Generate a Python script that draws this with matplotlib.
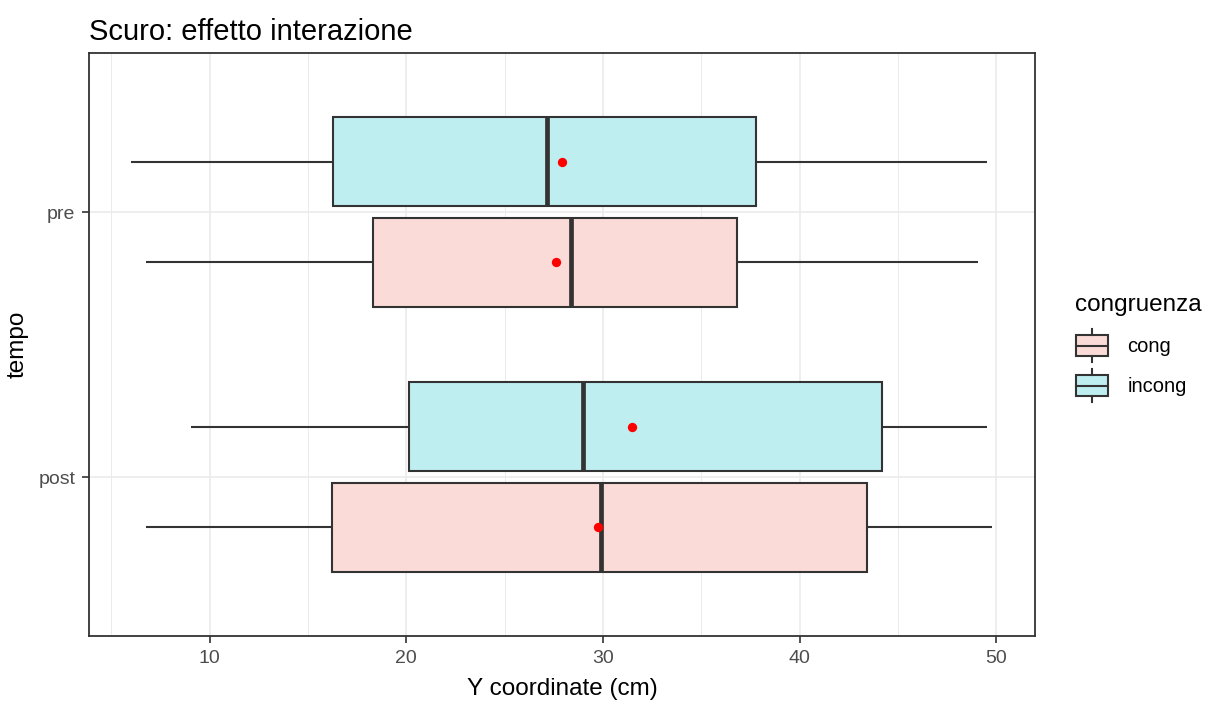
import matplotlib
matplotlib.use("Agg")
import matplotlib.pyplot as plt
from matplotlib.patches import Rectangle, Patch
from matplotlib.legend_handler import HandlerBase
from matplotlib.lines import Line2D

plt.rcParams['font.family'] = ['Liberation Sans', 'DejaVu Sans']

tempo = ["post", "pre"]
groups = ["cong", "incong"]
# stats per (tempo, group): whisker_low, q1, median, q3, whisker_high, mean
stats = {
    ("pre", "incong"): [6.0, 16.26, 27.15, 37.79, 49.54, 27.91],
    ("pre", "cong"):   [6.74, 18.3, 28.37, 36.82, 49.08, 27.6],
    ("post", "incong"): [9.03, 20.13, 28.98, 44.2, 49.54, 31.48],
    ("post", "cong"):  [6.74, 16.21, 29.9, 43.4, 49.8, 29.75],
}
fills = {"cong": "#FADBD8", "incong": "#BFEEF0"}
edge = "#333333"

fig = plt.figure(figsize=(12.12, 7.01), dpi=100)
ax = fig.add_axes([0.0738, 0.0927, 0.8542 - 0.0738, 0.9244 - 0.0927])

offsets = {"cong": -0.19, "incong": 0.19}
h = 0.336
for i, t in enumerate(tempo):
    yc = i + 1
    for g in groups:
        lo, q1, med, q3, hi, mn = stats[(t, g)]
        y = yc + offsets[g]
        ax.plot([lo, q1], [y, y], color=edge, lw=1.5, zorder=3, solid_capstyle='butt')
        ax.plot([q3, hi], [y, y], color=edge, lw=1.5, zorder=3, solid_capstyle='butt')
        ax.add_patch(Rectangle((q1, y - h / 2), q3 - q1, h, facecolor=fills[g],
                               edgecolor=edge, lw=1.5, zorder=3))
        ax.plot([med, med], [y - h / 2, y + h / 2], color=edge, lw=3.4, zorder=4,
                solid_capstyle='butt')
        ax.scatter([mn], [y], color="red", s=45, zorder=5, linewidths=0)

ax.set_xlim(3.89, 51.98)
ax.set_ylim(0.4, 2.6)
ax.set_xticks([10, 20, 30, 40, 50])
ax.set_xticks([5, 15, 25, 35, 45], minor=True)
ax.set_yticks([1, 2])
ax.set_yticklabels(tempo)
ax.grid(True, which='major', color='#EBEBEB', lw=1.2, zorder=0)
ax.grid(True, which='minor', axis='x', color='#EBEBEB', lw=0.7, zorder=0)
ax.set_axisbelow(True)
for s in ax.spines.values():
    s.set_color('#333333')
    s.set_linewidth(1.3)
ax.tick_params(axis='both', which='major', length=5, color='#333333', width=1.2,
               labelsize=14, labelcolor='#4D4D4D', pad=5)
ax.tick_params(axis='both', which='minor', length=0)
ax.set_xlabel("Y coordinate (cm)", fontsize=17.5, color='black', labelpad=8)
ax.set_ylabel("tempo", fontsize=17.5, color='black', labelpad=7)
ax.set_title("Scuro: effetto interazione", fontsize=21, loc='left', x=-0.0, pad=9)


class BoxHandler(HandlerBase):
    def create_artists(self, legend, orig_handle, xdescent, ydescent, width, height, fontsize, trans):
        fc = orig_handle.get_facecolor()
        w = width * 0.94
        x0 = xdescent + (width - w) / 2
        bh = height * 0.95
        y0 = -ydescent + (height - bh) / 2
        r = Rectangle((x0, y0), w, bh, facecolor=fc, edgecolor=edge, lw=1.5, transform=trans)
        cx = x0 + w / 2
        l1 = Line2D([cx, cx], [y0 + bh, y0 + bh + height * 0.28], color=edge, lw=1.5, transform=trans)
        l2 = Line2D([cx, cx], [y0, y0 - height * 0.28], color=edge, lw=1.5, transform=trans)
        l3 = Line2D([x0, x0 + w], [y0 + bh / 2, y0 + bh / 2], color=edge, lw=1.5, transform=trans)
        return [r, l1, l2, l3]

handles = [Patch(facecolor=fills[g]) for g in groups]
leg = fig.legend(handles, groups, title="congruenza", loc='upper left',
                 bbox_to_anchor=(0.8755, 0.6), frameon=False, fontsize=14.5,
                 title_fontsize=17.5, handler_map={Patch: BoxHandler()},
                 handlelength=1.7, handleheight=1.3, labelspacing=0.9, handletextpad=0.9,
                 borderpad=0.2)
leg._legend_box.align = "left"

fig.savefig("out.png", dpi=100)
